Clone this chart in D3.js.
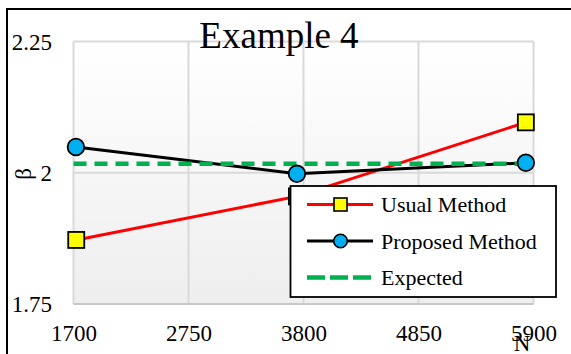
<!DOCTYPE html>
<html><head><meta charset="utf-8">
<script src="https://cdn.jsdelivr.net/npm/d3@7"></script>
<style>html,body{margin:0;padding:0;background:#fff;overflow:hidden}svg{display:block}text{font-family:"Liberation Serif","Times New Roman",serif !important;fill:#000}</style>
</head><body><svg id="c" width="571" height="354"></svg>
<script>
const title = "Example 4";
const xTicks = [1700, 2750, 3800, 4850, 5900];
const yTicks = [1.75, 2, 2.25];
const usualN = [1725, 3740, 5830];
const usualBeta = [1.872, 1.955, 2.096];
const proposedN = [1722, 3740, 5830];
const proposedBeta = [2.049, 1.998, 2.019];
const expectedN = [1700, 5900];
const expectedBeta = [2.017, 2.017];
const seriesNames = ["Usual Method", "Proposed Method", "Expected"];

const FONT = "Liberation Serif, Times New Roman, serif";
const svg = d3.select("#c");
const L = 73.5, R = 533.5, T = 41.5, B = 304;
const x = d3.scaleLinear().domain([1700, 5900]).range([L, R]);
const y = d3.scaleLinear().domain([1.75, 2.25]).range([B, T]);

const defs = svg.append("defs");
const g = defs.append("linearGradient").attr("id","bg").attr("x1",0).attr("y1",0).attr("x2",0).attr("y2",1);
g.append("stop").attr("offset","0%").attr("stop-color","#ffffff");
g.append("stop").attr("offset","100%").attr("stop-color","#eeeeee");

svg.append("rect").attr("x",L).attr("y",T).attr("width",R-L).attr("height",B-T).attr("fill","url(#bg)");

// grid
svg.append("g").selectAll("line").data(xTicks).join("line")
  .attr("x1",d=>x(d)).attr("x2",d=>x(d)).attr("y1",T).attr("y2",B)
  .attr("stroke","#d9d9d9").attr("stroke-width",2);
svg.append("g").selectAll("line").data(yTicks).join("line")
  .attr("x1",L).attr("x2",R).attr("y1",d=>y(d)).attr("y2",d=>y(d))
  .attr("stroke","#d9d9d9").attr("stroke-width",2);
svg.append("line").attr("x1",L).attr("x2",R).attr("y1",B).attr("y2",B).attr("stroke","#c8c8c8").attr("stroke-width",2);

// outer border
svg.append("rect").attr("x",7).attr("y",9).attr("width",700).attr("height",500)
  .attr("fill","none").attr("stroke","#000").attr("stroke-width",2);

// axes tick labels
const xAxis = d3.axisBottom(x).tickValues(xTicks).tickSize(0).tickPadding(0).tickFormat(d3.format("d"));
const xa = svg.append("g").attr("transform",`translate(0,${B})`).call(xAxis)
  .attr("font-family",FONT).attr("font-size",23);
xa.select(".domain").remove();
xa.selectAll("text").attr("font-size",23).attr("font-family",FONT).attr("dy",null).attr("y",37);
const yAxis = d3.axisLeft(y).tickValues(yTicks).tickSize(0).tickPadding(0).tickFormat(d=>String(d));
const ya = svg.append("g").attr("transform",`translate(52,0)`).call(yAxis)
  .attr("font-family",FONT).attr("font-size",23);
ya.select(".domain").remove();
ya.selectAll("text").attr("font-size",23).attr("font-family",FONT).attr("dy","0.33em").attr("x",0);

// title and axis labels
svg.append("text").attr("x",279).attr("y",48).attr("text-anchor","middle").attr("font-size",37).text(title);
svg.append("text").attr("transform",`translate(31,174) rotate(-90)`).attr("text-anchor","middle").attr("font-size",23).text("β");
svg.append("text").attr("x",522).attr("y",351).attr("text-anchor","middle").attr("font-size",23).text("N");

const line = d3.line().x(d=>x(d[0])).y(d=>y(d[1]));
const usual = usualN.map((n,i)=>[n,usualBeta[i]]);
const proposed = proposedN.map((n,i)=>[n,proposedBeta[i]]);
const expected = expectedN.map((n,i)=>[n,expectedBeta[i]]);

svg.append("path").datum(usual).attr("d",line).attr("fill","none").attr("stroke","#ff0000").attr("stroke-width",3);
svg.append("path").datum(proposed).attr("d",line).attr("fill","none").attr("stroke","#000").attr("stroke-width",3);
svg.append("path").datum(expected).attr("d",line).attr("fill","none").attr("stroke","#00b050").attr("stroke-width",4.5).attr("stroke-dasharray","13,8");

svg.append("g").selectAll("rect").data(usual).join("rect")
  .attr("x",d=>x(d[0])-8).attr("y",d=>y(d[1])-8).attr("width",16).attr("height",16)
  .attr("fill","#ffff00").attr("stroke","#000").attr("stroke-width",1.8);
svg.append("g").selectAll("circle").data(proposed).join("circle")
  .attr("cx",d=>x(d[0])).attr("cy",d=>y(d[1])).attr("r",8.3)
  .attr("fill","#00b0f0").attr("stroke","#000").attr("stroke-width",1.8);

// legend
const lg = svg.append("g");
lg.append("rect").attr("x",290.5).attr("y",186).attr("width",265.5).attr("height",111)
  .attr("fill","#fff").attr("stroke","#000").attr("stroke-width",1.8);
const rows = [204.5, 241, 277.5];
lg.append("line").attr("x1",307).attr("x2",373).attr("y1",rows[0]).attr("y2",rows[0]).attr("stroke","#ff0000").attr("stroke-width",3);
lg.append("rect").attr("x",334).attr("y",rows[0]-6.5).attr("width",13).attr("height",13).attr("fill","#ffff00").attr("stroke","#000").attr("stroke-width",1.6);
lg.append("line").attr("x1",307).attr("x2",373).attr("y1",rows[1]).attr("y2",rows[1]).attr("stroke","#000").attr("stroke-width",3);
lg.append("circle").attr("cx",340.5).attr("cy",rows[1]).attr("r",6.8).attr("fill","#00b0f0").attr("stroke","#000").attr("stroke-width",1.6);
lg.append("line").attr("x1",307).attr("x2",373).attr("y1",rows[2]).attr("y2",rows[2]).attr("stroke","#00b050").attr("stroke-width",4.5).attr("stroke-dasharray","18,5");
lg.selectAll("text").data(seriesNames).join("text")
  .attr("x",381).attr("y",(d,i)=>rows[i]+7.5).attr("font-size",22).text(d=>d);
</script></body></html>
